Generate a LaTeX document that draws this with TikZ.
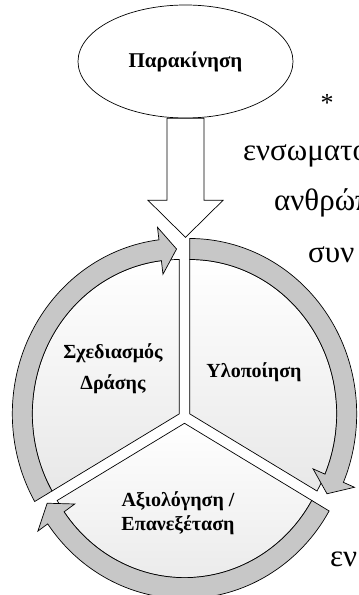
\documentclass[tikz,border=0pt]{standalone}
\usepackage{fontspec}
\setmainfont{Liberation Serif}
\usetikzlibrary{shapes.geometric}
\begin{document}
\begin{tikzpicture}[x=1pt, y=1pt,
  lbl/.style={font=\fontsize{20}{24}\selectfont\bfseries, align=center, inner sep=0pt},
  body/.style={font=\fontsize{31}{36}\selectfont, anchor=base west, inner sep=0pt},
  sect/.style={draw, line width=0.7pt, top color=white, bottom color=black!9},
  ring/.style={draw, line width=0.7pt, fill=black!22},
  blk/.style={draw, line width=0.7pt, fill=white}]
\useasboundingbox (0,0) rectangle (359,595);
\clip (0,0) rectangle (359,595);
% motivation + arrow into the cycle
\node[ellipse, blk, minimum width=215pt, minimum height=113pt, inner sep=0pt,
  font=\fontsize{21}{25}\selectfont\bfseries] (mot) at (185.5,533.5) {Παρακίνηση};
\draw[blk] ([xshift=-18.5pt]mot.south) -- ++(0,-82) -- ++(-19,0) -- ++(37.5,-37)
  -- ++(37.5,37) -- ++(-19,0) -- ++(0,82) -- cycle;
% cycle: three segments
\begin{scope}[shift={(184.5,178)}, yscale=1.05]
\begin{scope}[shift={(30:6)}]
  \draw[sect] (0,0) -- (90:147) arc[start angle=90, end angle=-30, radius=147] -- cycle;
\end{scope}
\begin{scope}[shift={(150:6)}]
  \draw[sect] (0,0) -- (210:147) arc[start angle=210, end angle=90, radius=147] -- cycle;
\end{scope}
\begin{scope}[shift={(270:6)}]
  \draw[sect] (0,0) -- (330:147) arc[start angle=330, end angle=210, radius=147] -- cycle;
\end{scope}
% curved arrows round it
\begin{scope}[shift={(30:6)}]
  \draw[ring] (90:167) arc[start angle=90, end angle=-23, radius=167] -- (-23:179)
    -- (-29:157) -- (-23:134) -- (-23:147) arc[start angle=-23, end angle=90, radius=147] -- cycle;
\end{scope}
\begin{scope}[shift={(150:6)}]
  \draw[ring] (210:167) arc[start angle=210, end angle=97, radius=167] -- (97:179)
    -- (91:157) -- (97:134) -- (97:147) arc[start angle=97, end angle=210, radius=147] -- cycle;
\end{scope}
\begin{scope}[shift={(270:6)}]
  \draw[ring] (330:167) arc[start angle=330, end angle=215, radius=167] -- (215:179)
    -- (209:157) -- (215:134) -- (215:147) arc[start angle=215, end angle=330, radius=147] -- cycle;
\end{scope}
\end{scope}
\node[lbl] (plan) at (113,226) {Σχεδιασμός\\[7pt]Δράσης};
\node[lbl] (impl) at (254,223) {Υλοποίηση};
\node[lbl] (eval) at (178,82) {Αξιολόγηση /\\Επανεξέταση};
% running text cut off at the right
\node[font=\fontsize{26}{30}\selectfont, inner sep=0pt] (star) at (327,492) {*};
\node[body] (ln1) at (243,434) {ενσωματο};
\node[body] (ln2) at (274,384) {ανθρώπ};
\node[body] (ln3) at (308,332) {συν};
\node[body] (ln4) at (330,28) {εν};
\end{tikzpicture}
\end{document}
